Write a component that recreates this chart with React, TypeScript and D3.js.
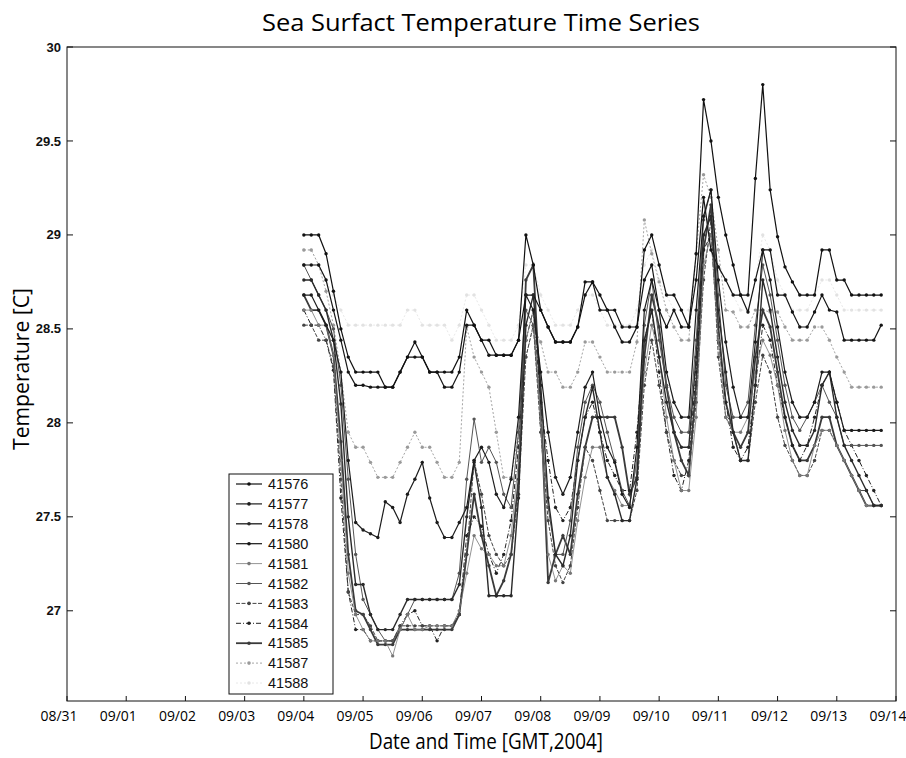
import React from 'react'
import * as d3 from 'd3'

// buoy ids, in legend order
const stations = ['41576', '41577', '41578', '41580', '41581', '41582', '41583', '41584', '41585', '41587', '41588']

// samples are 3-hourly starting 09/04 00:00 GMT
const startDay = 4 // days after 08/31
const stepDays = 0.125

const s41576 = [
  29.0, 29.0, 29.0, 28.9, 28.7, 28.5, 28.35, 28.27,
  28.27, 28.27, 28.27, 28.19, 28.19, 28.27, 28.35, 28.43,
  28.35, 28.27, 28.27, 28.27, 28.27, 28.35, 28.6, 28.52,
  28.44, 28.44, 28.36, 28.36, 28.36, 28.44, 29.0, 28.84,
  28.6, 28.51, 28.43, 28.43, 28.43, 28.51, 28.75, 28.75,
  28.68, 28.6, 28.6, 28.51, 28.51, 28.51, 28.92, 29.0,
  28.84, 28.68, 28.68, 28.6, 28.51, 28.9, 29.72, 29.5,
  29.2, 29.0, 28.84, 28.68, 28.68, 29.3, 29.8, 29.24,
  28.99, 28.83, 28.75, 28.68, 28.68, 28.68, 28.92, 28.92,
  28.76, 28.76, 28.68, 28.68, 28.68, 28.68, 28.68
]
const s41577 = [
  28.68, 28.68, 28.6, 28.52, 28.44, 28.27, 27.8, 27.47,
  27.43, 27.41, 27.39, 27.58, 27.55, 27.47, 27.62, 27.7,
  27.79, 27.6, 27.47, 27.39, 27.39, 27.47, 27.55, 27.8,
  27.87, 27.79, 27.62, 27.55, 27.7, 28.03, 28.68, 28.6,
  28.27, 27.95, 27.71, 27.62, 27.71, 27.95, 28.19, 28.27,
  28.03, 27.87, 27.79, 27.62, 27.55, 27.87, 28.6, 28.76,
  28.6, 28.27, 28.11, 28.03, 28.03, 28.6, 29.1, 29.24,
  28.76, 28.43, 28.19, 28.03, 28.03, 28.43, 28.92, 28.76,
  28.51, 28.27, 28.11, 28.03, 28.03, 28.11, 28.27, 28.27,
  28.11, 27.96, 27.96, 27.96, 27.96, 27.96, 27.96
]
const s41578 = [
  28.76, 28.76, 28.68, 28.6, 28.44, 28.1, 27.5, 27.14,
  27.14, 26.98, 26.9, 26.9, 26.9, 26.98, 27.06, 27.06,
  27.06, 27.06, 27.06, 27.06, 27.06, 27.14, 27.5, 27.79,
  27.55, 27.08, 27.08, 27.08, 27.08, 27.6, 28.52, 28.68,
  28.2, 27.6, 27.3, 27.24, 27.4, 27.8, 28.03, 28.19,
  27.95, 27.71, 27.62, 27.48, 27.48, 27.7, 28.44, 28.6,
  28.35, 28.11, 27.95, 27.87, 27.87, 28.35, 29.0, 29.1,
  28.6, 28.27, 27.95, 27.8, 27.8, 28.2, 28.76, 28.6,
  28.35, 28.11, 27.96, 27.88, 27.88, 27.96, 28.2, 28.27,
  28.03, 27.88, 27.8, 27.72, 27.64, 27.56, 27.56
]
const s41580 = [
  28.84, 28.84, 28.84, 28.76, 28.6, 28.44, 28.27, 28.2,
  28.2, 28.19, 28.19, 28.19, 28.19, 28.27, 28.35, 28.35,
  28.35, 28.27, 28.27, 28.19, 28.19, 28.27, 28.52, 28.52,
  28.44, 28.36, 28.36, 28.36, 28.36, 28.44, 28.68, 28.68,
  28.6, 28.51, 28.43, 28.43, 28.43, 28.51, 28.68, 28.75,
  28.6, 28.6, 28.51, 28.43, 28.43, 28.51, 28.76, 28.84,
  28.6, 28.51, 28.6, 28.51, 28.51, 28.76, 29.2, 28.92,
  28.83, 28.76, 28.68, 28.68, 28.59, 28.76, 28.92, 28.92,
  28.68, 28.68, 28.59, 28.51, 28.51, 28.59, 28.68, 28.6,
  28.59, 28.44, 28.44, 28.44, 28.44, 28.44, 28.52
]
const s41581 = [
  28.6, 28.6, 28.52, 28.52, 28.36, 27.8, 27.2, 26.98,
  26.9, 26.84, 26.84, 26.84, 26.76, 26.9, 26.98, 26.9,
  26.9, 26.92, 26.92, 26.92, 26.92, 27.0, 27.2, 27.4,
  27.33, 27.3, 27.24, 27.24, 27.4, 27.8, 28.44, 28.6,
  28.0, 27.3, 27.16, 27.24, 27.2, 27.48, 27.71, 27.87,
  27.87, 27.71, 27.64, 27.56, 27.56, 27.8, 28.27, 28.52,
  28.35, 28.03, 27.8, 27.64, 27.64, 28.03, 28.84, 29.0,
  28.44, 28.03, 27.95, 27.95, 28.03, 28.27, 28.44, 28.36,
  28.2, 27.96, 27.8, 27.72, 27.72, 27.88, 27.96, 27.96,
  27.88, 27.8, 27.72, 27.64, 27.56, 27.56, 27.56
]
const s41582 = [
  28.84, 28.76, 28.68, 28.6, 28.5, 28.2, 27.7, 27.3,
  27.06, 26.98, 26.9, 26.84, 26.84, 26.9, 26.98, 27.06,
  27.06, 27.06, 27.06, 27.06, 27.06, 27.2, 27.7, 28.02,
  27.79, 27.87, 27.79, 27.62, 27.55, 27.95, 28.6, 28.52,
  28.03, 27.55, 27.3, 27.3, 27.48, 27.87, 28.11, 28.2,
  28.11, 27.95, 27.8, 27.64, 27.56, 27.8, 28.52, 28.76,
  28.44, 28.2, 28.03, 27.95, 27.95, 28.44, 29.08, 29.24,
  28.68, 28.2, 28.03, 28.03, 28.11, 28.52, 28.84, 28.68,
  28.44, 28.2, 28.03, 27.96, 28.03, 28.11, 28.2, 28.11,
  28.03, 27.88, 27.88, 27.88, 27.88, 27.88, 27.88
]
const s41583 = [
  28.52, 28.52, 28.44, 28.44, 28.3, 27.7, 27.1, 26.98,
  26.98, 26.92, 26.84, 26.84, 26.84, 26.92, 26.92, 26.92,
  26.92, 26.92, 26.92, 26.92, 26.92, 26.98, 27.3, 27.8,
  27.62, 27.4, 27.3, 27.24, 27.3, 27.62, 28.35, 28.52,
  27.95, 27.48, 27.24, 27.15, 27.24, 27.55, 27.87, 27.8,
  27.64, 27.48, 27.48, 27.48, 27.48, 27.64, 28.2, 28.44,
  28.2, 27.95, 27.8, 27.72, 27.72, 28.11, 28.76, 29.08,
  28.35, 28.03, 27.95, 27.8, 27.8, 28.11, 28.36, 28.27,
  28.03, 27.88, 27.8, 27.72, 27.72, 27.8, 27.96, 27.96,
  27.88, 27.8, 27.72, 27.64, 27.64, 27.56, 27.56
]
const s41584 = [
  28.6, 28.52, 28.52, 28.44, 28.28, 27.6, 27.1, 26.9,
  26.9, 26.84, 26.84, 26.84, 26.84, 26.92, 26.98, 27.0,
  26.92, 26.92, 26.84, 26.92, 26.92, 26.98, 27.4, 27.5,
  27.45, 27.3, 27.2, 27.3, 27.48, 27.87, 28.44, 28.6,
  28.11, 27.8, 27.55, 27.48, 27.55, 27.8, 28.03, 28.11,
  27.95, 27.8, 27.72, 27.64, 27.64, 27.95, 28.44, 28.6,
  28.27, 27.95, 27.72, 27.64, 27.8, 28.27, 28.92, 29.0,
  28.44, 28.11, 27.87, 27.8, 27.87, 28.2, 28.52, 28.44,
  28.2, 28.03, 27.88, 27.8, 27.88, 28.03, 28.2, 28.27,
  28.11, 27.96, 27.88, 27.8, 27.72, 27.64, 27.56
]
const s41585 = [
  28.68, 28.6, 28.6, 28.52, 28.36, 27.9, 27.3, 27.0,
  26.98, 26.9, 26.82, 26.82, 26.82, 26.9, 26.9, 26.9,
  26.9, 26.9, 26.9, 26.9, 26.9, 26.98, 27.3, 27.62,
  27.4, 27.24, 27.08, 27.16, 27.3, 27.7, 28.76, 28.84,
  28.1, 27.15, 27.3, 27.4, 27.3, 27.62, 27.87, 28.03,
  28.03, 28.03, 28.03, 27.87, 27.62, 27.71, 28.35, 28.68,
  28.51, 28.19, 27.95, 27.8, 27.72, 28.2, 28.92, 29.16,
  28.51, 28.11, 27.95, 27.87, 27.95, 28.35, 28.6, 28.51,
  28.27, 28.03, 27.88, 27.8, 27.8, 27.88, 28.03, 28.03,
  27.88, 27.8, 27.72, 27.64, 27.56, 27.56, 27.56
]
const s41587 = [
  28.92, 28.92, 28.84, 28.7, 28.52, 28.27, 27.95, 27.87,
  27.87, 27.79, 27.71, 27.71, 27.71, 27.79, 27.87, 27.95,
  27.87, 27.87, 27.79, 27.71, 27.71, 27.79, 28.51, 28.35,
  28.27, 28.19, 27.95, 27.71, 27.71, 27.95, 28.35, 28.51,
  28.43, 28.27, 28.27, 28.19, 28.19, 28.27, 28.43, 28.43,
  28.35, 28.27, 28.27, 28.27, 28.27, 28.43, 29.08, 28.9,
  28.75, 28.6, 28.51, 28.44, 28.44, 28.9, 29.32, 29.2,
  28.92, 28.6, 28.59, 28.51, 28.51, 28.6, 28.6, 28.59,
  28.59, 28.51, 28.44, 28.44, 28.44, 28.51, 28.51, 28.44,
  28.35, 28.27, 28.19, 28.19, 28.19, 28.19, 28.19
]
const s41588 = [
  28.92, 28.92, 28.84, 28.76, 28.68, 28.6, 28.52, 28.52,
  28.52, 28.52, 28.52, 28.52, 28.52, 28.52, 28.6, 28.6,
  28.52, 28.52, 28.52, 28.52, 28.44, 28.52, 28.68, 28.68,
  28.6, 28.52, 28.44, 28.44, 28.44, 28.52, 28.84, 28.84,
  28.68, 28.6, 28.52, 28.52, 28.52, 28.6, 28.68, 28.68,
  28.6, 28.52, 28.52, 28.52, 28.52, 28.6, 28.84, 28.92,
  28.76, 28.68, 28.6, 28.6, 28.6, 28.76, 29.1, 29.0,
  28.84, 28.76, 28.68, 28.6, 28.6, 28.76, 29.0, 28.92,
  28.76, 28.68, 28.6, 28.6, 28.6, 28.68, 28.76, 28.76,
  28.68, 28.6, 28.6, 28.6, 28.6, 28.6, 28.6
]

const seriesValues = [s41576, s41577, s41578, s41580, s41581, s41582, s41583, s41584, s41585, s41587, s41588]

// greyscale print of the matlab colours
const lineColors = ['#111', '#1c1c1c', '#2a2a2a', '#151515', '#777', '#555', '#444', '#222', '#3a3a3a', '#9a9a9a', '#e2e2e2']
const lineWidths = [1.2, 1.2, 1.4, 1.2, 0.8, 1, 1, 1, 1.8, 0.9, 0.8]
const lineDash = [null, null, null, null, null, null, '4,1.5', '5,2,1,2', null, '2,2', '2,2']

const yTicks = [27, 27.5, 28, 28.5, 29, 29.5, 30]

const DAY = 86400000
const origin = Date.UTC(2004, 7, 31)

const W = 906, H = 758
const left = 67, right = 896, top = 47, bottom = 701

export default function App() {
  const x = d3.scaleUtc().domain([new Date(origin), new Date(origin + 14 * DAY)]).range([left, right])
  const y = d3.scaleLinear().domain([26.52, 30]).range([bottom, top])
  const xTicks = x.ticks(d3.utcDay.every(1))
  const fmt = d3.utcFormat('%m/%d')

  const series = stations.map((id, k) => ({
    id,
    color: lineColors[k],
    width: lineWidths[k],
    dash: lineDash[k],
    points: seriesValues[k].map((v, i) => ({ t: new Date(origin + (startDay + i * stepDays) * DAY), v }))
  }))

  const line = d3.line<{ t: Date; v: number }>().x(d => x(d.t)).y(d => y(d.v))

  const legX = 229, legY = 474, legW = 104, rowH = 19.9

  return (
    <svg width={W} height={H} style={{ position: 'absolute', left: 0, top: 0, background: '#fff' }}>
      <rect x={0} y={0} width={W} height={H} fill="#fff" />
      <text x={481} y={31} textAnchor="middle" fontFamily="Open Sans" fontSize={23} textLength={438} lengthAdjust="spacingAndGlyphs" fill="#000">Sea Surfact Temperature Time Series</text>

      {/* series drawn back to front so the dark ones sit on top */}
      {series.slice().reverse().map(s => (
        <g key={s.id}>
          <path d={line(s.points) || ''} fill="none" stroke={s.color} strokeWidth={s.width} strokeDasharray={s.dash || undefined} />
          {s.points.map((p, i) => (
            <circle key={i} cx={x(p.t)} cy={y(p.v)} r={1.7} fill={s.color} />
          ))}
        </g>
      ))}

      <rect x={left} y={top} width={right - left} height={bottom - top} fill="none" stroke="#111" strokeWidth={1} />
      {yTicks.map(t => (
        <g key={t}>
          <line x1={left} x2={left + 6} y1={y(t)} y2={y(t)} stroke="#111" />
          <line x1={right - 6} x2={right} y1={y(t)} y2={y(t)} stroke="#111" />
          <text x={left - 6} y={y(t)} dy="0.35em" textAnchor="end" fontFamily="Liberation Sans" fontSize={13} fontWeight="bold" fill="#111">{d3.format('~g')(t)}</text>
        </g>
      ))}
      {xTicks.map(t => (
        <g key={t.getTime()}>
          <line x1={x(t)} x2={x(t)} y1={bottom} y2={bottom - 5} stroke="#111" />
          <text x={x(t) - 8} y={721} textAnchor="middle" fontFamily="Open Sans" fontSize={14} textLength={37} lengthAdjust="spacingAndGlyphs" fill="#000">{fmt(t)}</text>
        </g>
      ))}

      <text x={486} y={749} textAnchor="middle" fontFamily="Open Sans" fontSize={21} textLength={234} lengthAdjust="spacingAndGlyphs" fill="#000">Date and Time [GMT,2004]</text>
      <text transform="translate(29,369) rotate(-90)" textAnchor="middle" fontFamily="Open Sans" fontSize={21} textLength={162} lengthAdjust="spacingAndGlyphs" fill="#000">Temperature [C]</text>

      <g>
        <rect x={legX} y={legY} width={legW} height={220} fill="#fff" stroke="#111" />
        {series.map((s, i) => {
          const cy = legY + 10 + i * rowH
          return (
            <g key={s.id}>
              <line x1={legX + 7} x2={legX + 33} y1={cy} y2={cy} stroke={s.color} strokeWidth={s.width} strokeDasharray={s.dash || undefined} />
              <circle cx={legX + 20} cy={cy} r={1.8} fill={s.color} />
              <text x={legX + 39} y={cy} dy="0.36em" fontFamily="Liberation Sans" fontSize={14.5} fill="#111">{s.id}</text>
            </g>
          )
        })}
      </g>
    </svg>
  )
}
